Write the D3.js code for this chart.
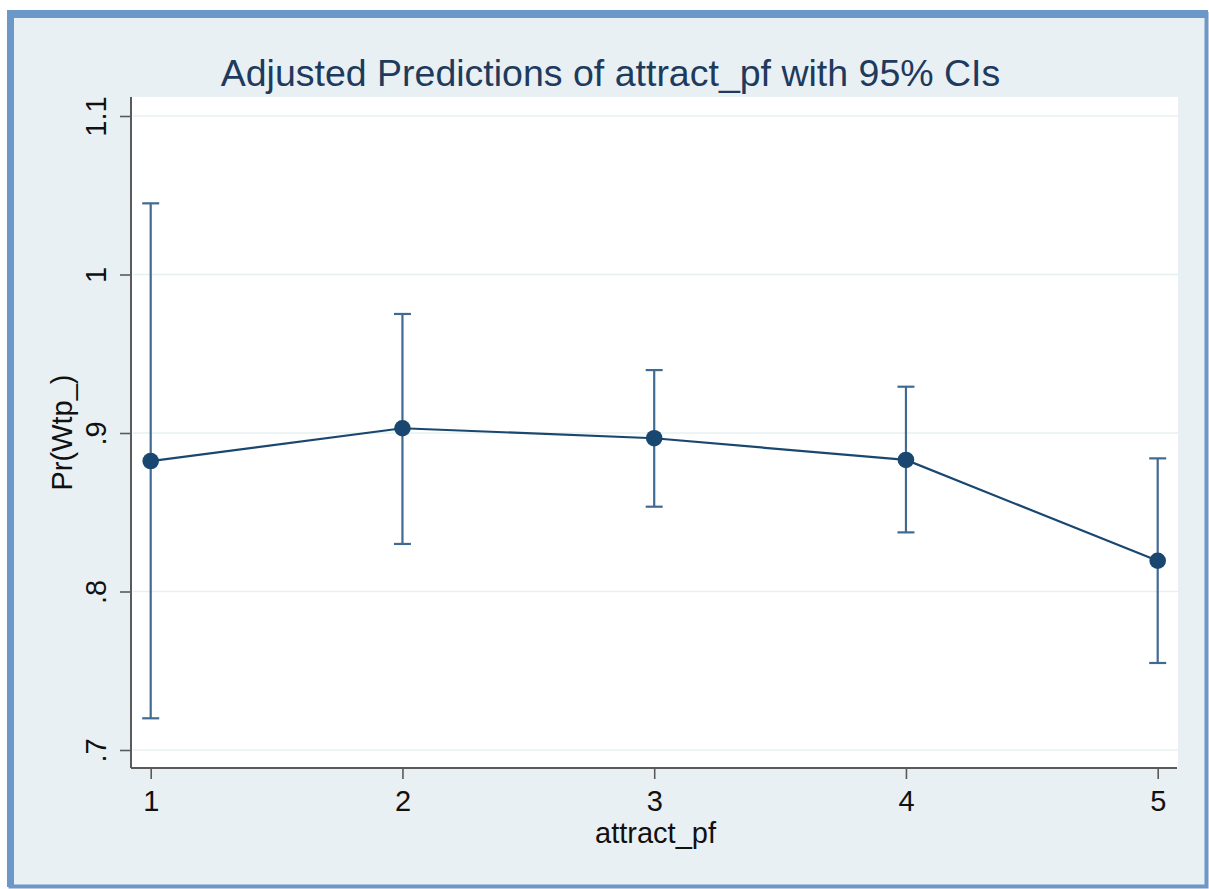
<!DOCTYPE html>
<html>
<head>
<meta charset="utf-8">
<script src="https://cdn.jsdelivr.net/npm/d3@7"></script>
<style>
  html, body { margin: 0; padding: 0; background: #ffffff; }
  svg { display: block; }
  text { font-family: "Liberation Sans", Arial, Helvetica, sans-serif; }
</style>
</head>
<body>
<svg id="chart" width="1209" height="889"></svg>
<script>
// ---- data ----
const categories = [1, 2, 3, 4, 5];
const predicted = [0.8823, 0.9030, 0.8967, 0.8830, 0.8194];
const ciLower   = [0.7200, 0.8300, 0.8535, 0.8373, 0.7549];
const ciUpper   = [1.0449, 0.9751, 0.9397, 0.9292, 0.8840];
const yTicks = [0.7, 0.8, 0.9, 1.0, 1.1];
const yTickLabels = [".7", ".8", ".9", "1", "1.1"];
const xTickLabels = ["1", "2", "3", "4", "5"];
const titleText = "Adjusted Predictions of attract_pf with 95% CIs";
const xTitle = "attract_pf";
const yTitle = "Pr(Wtp_)";

const svg = d3.select("#chart");
const W = 1209, H = 889;

// outer frame
svg.append("rect").attr("x", 10.5).attr("y", 14).attr("width", W - 13).attr("height", H - 16.5)
  .attr("fill", "#e9f0f3").attr("stroke", "#6b98c8").attr("stroke-width", 4);
svg.append("rect").attr("x", 7).attr("y", 10).attr("width", 7).attr("height", H - 12)
  .attr("fill", "#6b98c8");
svg.append("rect").attr("x", 7).attr("y", 10).attr("width", W - 8).attr("height", 8)
  .attr("fill", "#6b98c8");

// plot region
const plot = { left: 131, right: 1178, top: 97, bottom: 768 };
svg.append("rect").attr("x", plot.left).attr("y", plot.top)
  .attr("width", plot.right - plot.left).attr("height", plot.bottom - plot.top)
  .attr("fill", "#ffffff");

const x = d3.scaleLinear().domain([1, 5]).range([150.7, 1157.7]);
const y = d3.scaleLinear().domain([0.7, 1.1]).range([750, 116]);

// gridlines
svg.append("g").selectAll("line").data(yTicks).join("line")
  .attr("x1", plot.left + 2).attr("x2", plot.right)
  .attr("y1", d => y(d)).attr("y2", d => y(d))
  .attr("stroke", "#e6f0f1").attr("stroke-width", 1.6);

const tickFont = 29;

// y axis
const yAxis = d3.axisLeft(y).tickValues(yTicks)
  .tickFormat((d, i) => yTickLabels[i]).tickSize(11).tickPadding(8);
const gy = svg.append("g").attr("transform", `translate(${plot.left},0)`).call(yAxis);
gy.select(".domain").attr("d", `M0,${plot.top}V${plot.bottom}`)
  .attr("stroke", "#5a5a5a").attr("stroke-width", 2);
gy.selectAll(".tick line").attr("stroke", "#5a5a5a").attr("stroke-width", 1.6);
gy.selectAll(".tick text")
  .attr("font-size", tickFont).attr("fill", "#111")
  .attr("text-anchor", "middle")
  .attr("transform", "translate(-35,0) rotate(-90)")
  .attr("x", 0).attr("dy", "0.35em").attr("y", 0);

// x axis
const xAxis = d3.axisBottom(x).tickValues(categories)
  .tickFormat((d, i) => xTickLabels[i]).tickSize(11).tickPadding(11);
const gx = svg.append("g").attr("transform", `translate(0,${plot.bottom})`).call(xAxis);
gx.select(".domain").attr("d", `M${plot.left},0H${plot.right - 1}`)
  .attr("stroke", "#5a5a5a").attr("stroke-width", 2);
gx.selectAll(".tick line").attr("stroke", "#5a5a5a").attr("stroke-width", 1.6);
gx.selectAll(".tick text").attr("font-size", tickFont).attr("fill", "#111");

// CI error bars
const ciColor = "#416a93";
const capHalf = 8.5;
const ci = svg.append("g");
categories.forEach((c, i) => {
  ci.append("line").attr("x1", x(c)).attr("x2", x(c))
    .attr("y1", y(ciLower[i])).attr("y2", y(ciUpper[i]))
    .attr("stroke", ciColor).attr("stroke-width", 2.2);
  ci.append("line").attr("x1", x(c) - capHalf).attr("x2", x(c) + capHalf)
    .attr("y1", y(ciUpper[i])).attr("y2", y(ciUpper[i]))
    .attr("stroke", ciColor).attr("stroke-width", 2.2);
  ci.append("line").attr("x1", x(c) - capHalf).attr("x2", x(c) + capHalf)
    .attr("y1", y(ciLower[i])).attr("y2", y(ciLower[i]))
    .attr("stroke", ciColor).attr("stroke-width", 2.2);
});

// line + markers
const pts = categories.map((c, i) => [c, predicted[i]]);
svg.append("path").datum(pts)
  .attr("d", d3.line().x(d => x(d[0])).y(d => y(d[1])))
  .attr("fill", "none").attr("stroke", "#1a476f").attr("stroke-width", 2.2);
svg.append("g").selectAll("circle").data(pts).join("circle")
  .attr("cx", d => x(d[0])).attr("cy", d => y(d[1])).attr("r", 8.3)
  .attr("fill", "#1a476f");

// titles
svg.append("text").attr("x", 610.5).attr("y", 86).attr("text-anchor", "middle")
  .attr("font-size", 37.5).attr("fill", "#1e3a5c").text(titleText);
svg.append("text").attr("x", (plot.left + plot.right) / 2 + 1).attr("y", 843)
  .attr("text-anchor", "middle").attr("font-size", tickFont).attr("fill", "#111").text(xTitle);
svg.append("text").attr("transform", `translate(72,${(plot.top + plot.bottom) / 2}) rotate(-90)`)
  .attr("text-anchor", "middle").attr("font-size", tickFont).attr("fill", "#111").text(yTitle);
</script>
</body>
</html>
